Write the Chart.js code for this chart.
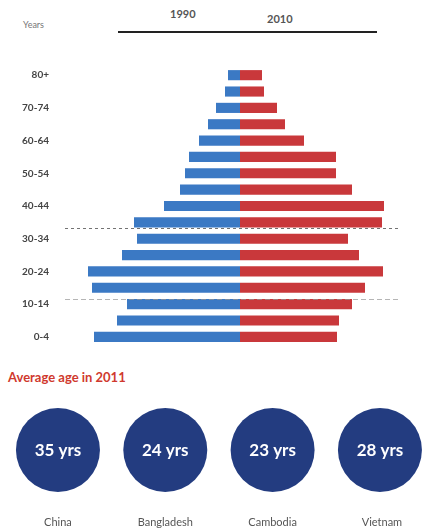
<!DOCTYPE html>
<html lang="en">
<head>
<meta charset="UTF-8"/>
<title>Population pyramid</title>
<style>
  body { margin:0; padding:0; background:#fff; font-family: Lato, 'Open Sans', Arial, sans-serif; }
  #wrap { position:relative; width:422px; height:529px; overflow:hidden; }
  #pyramid { position:absolute; left:0; top:0; }
  #ages { position:absolute; left:0; top:360px; }
  .hdr { position:absolute; font-weight:700; color:#555; }
  #years { left:23px; top:19px; font-size:9px; font-weight:400; color:#777; }
  #y1990 { left:170px; top:7px; font-size:11px; }
  #y2010 { left:267px; top:12px; font-size:11px; }
  #rule { position:absolute; left:118px; top:31px; width:259px; height:2px; background:#222; }
  #avgTitle { position:absolute; left:8px; top:369px; font-size:13px; font-weight:700; color:#d0392e; }
</style>
<script src="https://cdn.jsdelivr.net/npm/chart.js"></script>
</head>
<body>
<div id="wrap">
  <div class="hdr" id="years">Years</div>
  <div class="hdr" id="y1990">1990</div>
  <div class="hdr" id="y2010">2010</div>
  <div id="rule"></div>
  <canvas id="pyramid" width="422" height="360"></canvas>
  <div id="avgTitle">Average age in 2011</div>
  <canvas id="ages" width="422" height="169"></canvas>
</div>
<script>
// age groups, top to bottom
const ageGroups = ['80+','75-79','70-74','65-69','60-64','55-59','50-54','45-49','40-44',
                   '35-39','30-34','25-29','20-24','15-19','10-14','5-9','0-4'];
// bar lengths (relative units)
const pop1990 = [12, 15, 24, 32, 41, 51, 55, 60, 76, 106, 103, 118, 152, 148, 113, 123, 146];
const pop2010 = [22, 24, 37, 45, 64, 96, 96, 112, 144, 142, 108, 119, 143, 125, 112, 99, 97];
// dashed marker lines, position on the age axis (category index)
const markerAt = [9.35, 13.7];

const countries = ['China', 'Bangladesh', 'Cambodia', 'Vietnam'];
const avgAge = [35, 24, 23, 28];

const BLUE = '#3b79c4';
const RED = '#c9383b';
const NAVY = '#233c80';

const markerLines = {
  id: 'markerLines',
  afterDatasetsDraw(chart) {
    const ctx = chart.ctx, y = chart.scales.y;
    const styles = [
      { color: 'rgba(90,90,90,0.85)', width: 1.2, dash: [3, 3] },
      { color: 'rgba(150,150,150,0.7)', width: 1, dash: [5, 3] }
    ];
    markerAt.forEach((v, i) => {
      const py = Math.round(y.getPixelForValue(v)) + 0.5;
      ctx.save();
      ctx.strokeStyle = styles[i].color;
      ctx.lineWidth = styles[i].width;
      ctx.setLineDash(styles[i].dash);
      ctx.beginPath();
      ctx.moveTo(65, py);
      ctx.lineTo(401, py);
      ctx.stroke();
      ctx.restore();
    });
  }
};

new Chart(document.getElementById('pyramid'), {
  type: 'bar',
  data: {
    labels: ageGroups,
    datasets: [
      { label: '1990', data: pop1990.map(v => -v), backgroundColor: BLUE,
        barPercentage: 0.62, categoryPercentage: 1 },
      { label: '2010', data: pop2010, backgroundColor: RED,
        barPercentage: 0.62, categoryPercentage: 1 }
    ]
  },
  options: {
    indexAxis: 'y',
    responsive: false,
    animation: false,
    layout: { padding: { top: 67, bottom: 15, left: 0, right: 0 } },
    plugins: { legend: { display: false }, tooltip: { enabled: false } },
    scales: {
      x: { stacked: true, display: false, min: -184, max: 182 },
      y: {
        stacked: true,
        grid: { display: false, drawTicks: false },
        border: { display: false },
        afterFit(scale) { scale.width = 56; },
        ticks: {
          autoSkip: false,
          padding: 7,
          color: '#444',
          font: { family: 'Lato', size: 10, weight: '700' },
          callback(v, i) { return i % 2 === 0 ? ageGroups[i] : ''; }
        }
      }
    }
  },
  plugins: [markerLines]
});

const circleText = {
  id: 'circleText',
  afterDatasetsDraw(chart) {
    const ctx = chart.ctx, xs = chart.scales.x, ys = chart.scales.y;
    ctx.save();
    ctx.textAlign = 'center';
    ctx.textBaseline = 'middle';
    countries.forEach((c, i) => {
      const px = xs.getPixelForValue(i), py = ys.getPixelForValue(0);
      ctx.fillStyle = '#fff';
      ctx.font = '700 17px Lato';
      ctx.fillText(avgAge[i] + ' yrs', px, py + 1);
      ctx.fillStyle = '#555';
      ctx.font = '400 11px Lato';
      ctx.fillText(c, px + (i === 3 ? 2 : 0), py + 72);
    });
    ctx.restore();
  }
};

new Chart(document.getElementById('ages'), {
  type: 'scatter',
  data: {
    datasets: [{
      data: countries.map((c, i) => ({ x: i, y: 0 })),
      backgroundColor: NAVY,
      borderWidth: 0,
      pointRadius: 42,
      pointHoverRadius: 42,
      clip: false
    }]
  },
  options: {
    responsive: false,
    animation: false,
    layout: { autoPadding: false, padding: { top: 11, bottom: 0, left: 0, right: 0 } },
    plugins: { legend: { display: false }, tooltip: { enabled: false } },
    scales: {
      x: { display: false, min: -0.54, max: 3.392 },
      y: { display: false, min: -1, max: 1 }
    }
  },
  plugins: [circleText]
});
</script>
</body>
</html>
